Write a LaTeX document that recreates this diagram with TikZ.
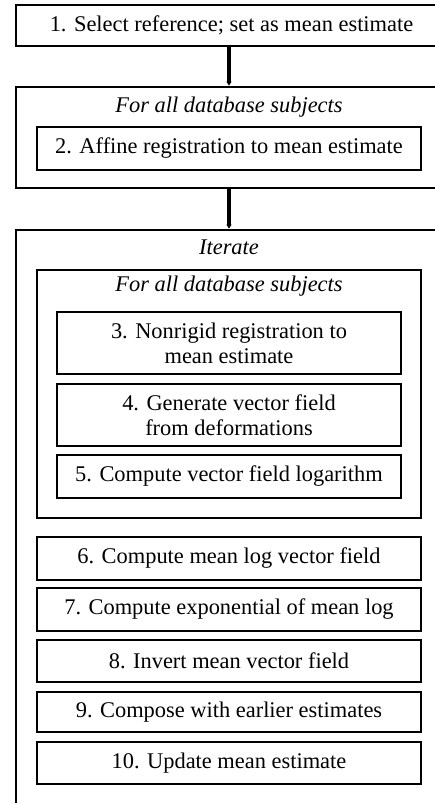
\documentclass[tikz,border=0pt]{standalone}
\usepackage{fontspec}
\setmainfont{Liberation Serif}
\usetikzlibrary{arrows.meta}
\tikzset{
  box/.style={draw=black, line width=2.9bp, rectangle, inner sep=0pt, align=center, font=\fontsize{22.5}{25}\selectfont},
  lbl/.style={inner sep=0pt, font=\fontsize{22.5}{25}\selectfont\itshape},
  flow/.style={draw=black, line width=4.5bp, -{Triangle[length=4bp,width=5bp]}},
}
\begin{document}
\begin{tikzpicture}[x=1bp,y=-1bp]
\useasboundingbox (0,0) rectangle (435,803);
\clip (0,0) rectangle (435,803);
% step 1
\node[box, minimum width=431bp, minimum height=41bp] (s1) at (231.5,25.5) {1. Select reference; set as mean estimate};
% outer 2
\node[box, minimum width=426bp, minimum height=101bp] (o2) at (229,137.5) {};
\node[lbl] (o2l) at (229,107) {For all database subjects};
\node[box, minimum width=384bp, minimum height=43bp] (s2) at (229,148.5) {2. Affine registration to mean estimate};
% iterate
\node[box, minimum width=426bp, minimum height=620bp] (it) at (229,540) {};
\node[lbl] (itl) at (229,247) {Iterate};
\node[box, minimum width=384bp, minimum height=248bp] (fa) at (229,394) {};
\node[lbl] (fal) at (229,286) {For all database subjects};
\node[box, minimum width=344bp, minimum height=62bp] (s3) at (229,343) {3. Nonrigid registration to\\mean estimate};
\node[box, minimum width=344bp, minimum height=62bp] (s4) at (229,415) {4. Generate vector field\\from deformations};
\node[box, minimum width=344bp, minimum height=43bp] (s5) at (229,476.5) {5. Compute vector field logarithm};
\node[box, minimum width=384bp, minimum height=43bp] (s6) at (229,558.5) {6. Compute mean log vector field};
\node[box, minimum width=384bp, minimum height=43bp] (s7) at (229,609.5) {7. Compute exponential of mean log};
\node[box, minimum width=384bp, minimum height=42bp] (s8) at (229,661) {8. Invert mean vector field};
\node[box, minimum width=384bp, minimum height=40bp] (s9) at (229,712) {9. Compose with earlier estimates};
\node[box, minimum width=384bp, minimum height=42bp] (s10) at (229,763) {10. Update mean estimate};
% arrows
\draw[flow] (s1.south -| o2.north) -- (o2.north);
\draw[flow] (o2.south) -- (it.north);
\end{tikzpicture}
\end{document}
